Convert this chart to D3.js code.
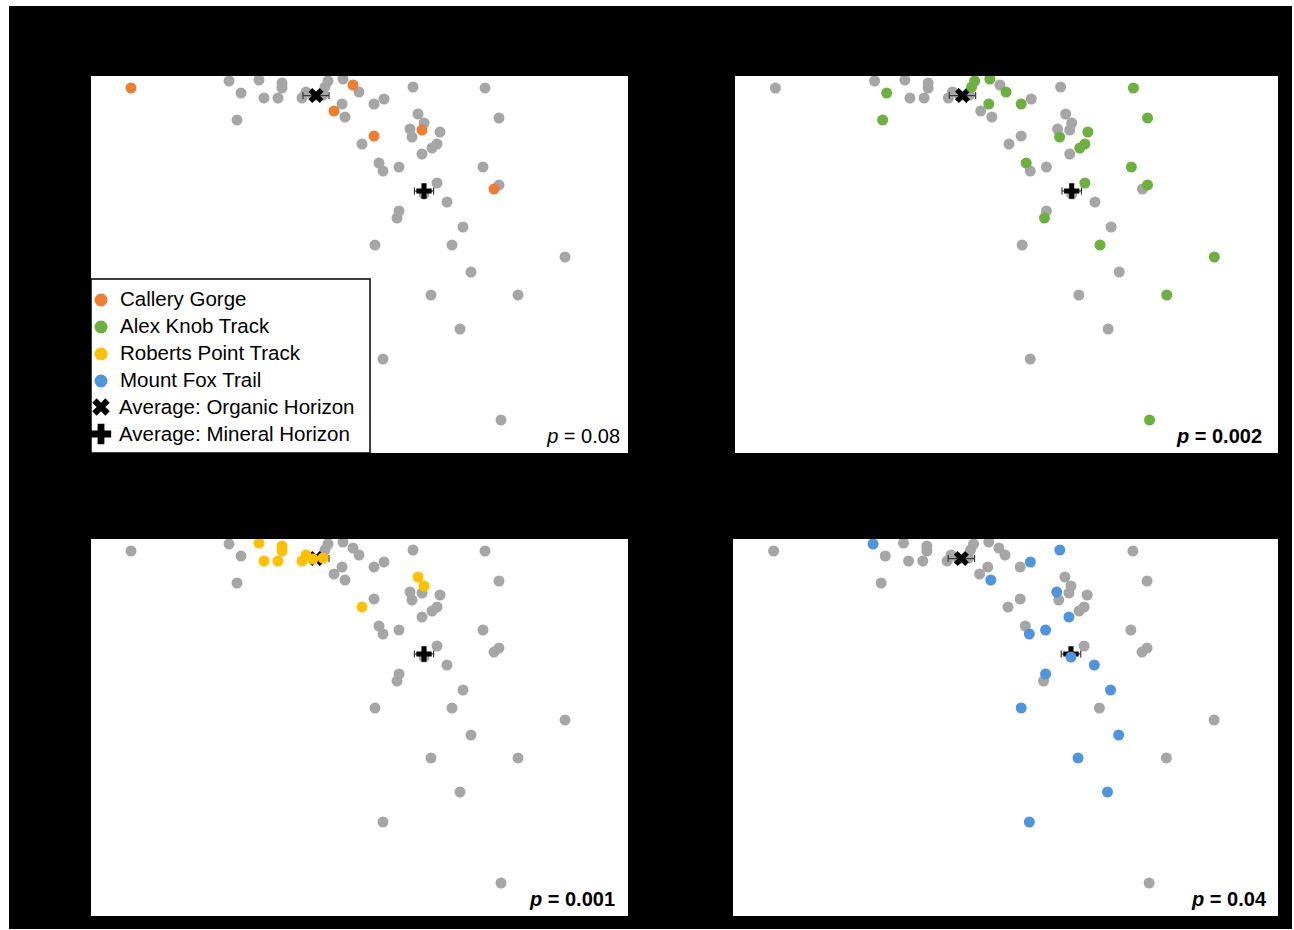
<!DOCTYPE html>
<html>
<head>
<meta charset="utf-8">
<script src="https://cdn.jsdelivr.net/npm/d3@7"></script>
<style>
  html, body { margin: 0; padding: 0; background: #ffffff; }
  svg { display: block; }
  text { font-family: "Liberation Sans", Arial, sans-serif; }
</style>
</head>
<body>
<svg id="chart" width="1294" height="930"></svg>
<script>
// NMDS ordination of soil communities, one panel per track
const sites = ["Callery Gorge", "Alex Knob Track", "Roberts Point Track", "Mount Fox Trail"];
const siteColors = ["#ed7d31", "#6cb040", "#ffc000", "#4f95dc"];

// sample scores [NMDS1, NMDS2]
const calleryGorge = [
  [-1.15, 0.89], [-0.04, 0.905], [-0.135, 0.775], [0.305, 0.68],
  [0.065, 0.65], [0.665, 0.385]
];
const alexKnobTrack = [
  [-0.60, 0.865], [-0.165, 0.925], [-0.18, 0.895], [-0.09, 0.935],
  [-0.01, 0.87], [-0.095, 0.81], [0.065, 0.81], [0.62, 0.89],
  [-0.62, 0.73], [0.255, 0.645], [0.395, 0.67], [0.69, 0.74],
  [0.38, 0.61], [0.355, 0.59], [0.09, 0.515], [0.61, 0.495],
  [0.38, 0.415], [0.69, 0.405], [0.18, 0.24], [0.455, 0.105],
  [1.02, 0.045], [0.785, -0.145], [0.70, -0.77]
];
const robertsPointTrack = [
  [-0.51, 0.93], [-0.395, 0.915], [-0.395, 0.89], [-0.485, 0.84],
  [-0.415, 0.84], [-0.295, 0.84], [-0.275, 0.87], [-0.24, 0.85],
  [-0.19, 0.855], [0.285, 0.76], [0.315, 0.715], [0.005, 0.61]
];
const mountFoxTrail = [
  [-0.66, 0.925], [-0.08, 0.745], [0.115, 0.835], [0.26, 0.895],
  [0.245, 0.685], [0.305, 0.56], [0.11, 0.475], [0.19, 0.495],
  [0.43, 0.32], [0.19, 0.275], [0.51, 0.195], [0.07, 0.105],
  [0.55, -0.03], [0.35, -0.145], [0.495, -0.315], [0.11, -0.465],
  [0.315, 0.36]
];
const siteScores = [calleryGorge, alexKnobTrack, robertsPointTrack, mountFoxTrail];

// horizon centroids: [NMDS1, NMDS2, standard error on NMDS1]
const organicAverage = [-0.225, 0.852, 0.065];
const mineralAverage = [0.315, 0.375, 0.048];

const pValues = [0.08, 0.002, 0.001, 0.04];
const pLabels = ["0.08", "0.002", "0.001", "0.04"];

const xDomain = [-1.35, 1.335];
const yDomain = [-0.935, 0.95];

// ---------------------------------------------------------------
const svg = d3.select("#chart");
const grey = "#a6a6a6";

svg.append("rect")
  .attr("x", 9).attr("y", 6)
  .attr("width", 1283).attr("height", 923)
  .attr("fill", "#000000");

const panels = [
  { x: 91,  y: 76,  w: 537, h: 377, pInset: 8 },
  { x: 735, y: 76,  w: 543, h: 377, pInset: 16 },
  { x: 91,  y: 539, w: 537, h: 377, pInset: 13 },
  { x: 733, y: 539, w: 545, h: 377, pInset: 12 }
];

const xSym = d3.symbol().type(d3.symbolCross);

function drawCentroid(g, x, y, c, kind, size) {
  const cx = x(c[0]), cy = y(c[1]);
  const x0 = x(c[0] - c[2]), x1 = x(c[0] + c[2]);
  const eb = g.append("g").attr("stroke", "#3a3a3a").attr("stroke-width", 1.2);
  eb.append("line").attr("x1", x0).attr("x2", x1).attr("y1", cy).attr("y2", cy);
  eb.append("line").attr("x1", x0).attr("x2", x0).attr("y1", cy - 3.5).attr("y2", cy + 3.5);
  eb.append("line").attr("x1", x1).attr("x2", x1).attr("y1", cy - 3.5).attr("y2", cy + 3.5);
  g.append("path")
    .attr("d", xSym.size(size)())
    .attr("transform", `translate(${cx},${cy}) rotate(${kind === "x" ? 45 : 0})`)
    .attr("fill", "#000");
}

panels.forEach((p, i) => {
  const g = svg.append("g");
  const clipId = "clip" + i;
  svg.append("clipPath").attr("id", clipId)
    .append("rect").attr("x", p.x).attr("y", p.y).attr("width", p.w).attr("height", p.h);

  g.append("rect").attr("x", p.x).attr("y", p.y).attr("width", p.w).attr("height", p.h)
    .attr("fill", "#fff");

  const x = d3.scaleLinear().domain(xDomain).range([p.x, p.x + p.w]);
  const y = d3.scaleLinear().domain(yDomain).range([p.y + p.h, p.y]);

  const plot = g.append("g").attr("clip-path", `url(#${clipId})`);

  // every other site in grey
  const others = siteScores.filter((_, k) => k !== i).flat();
  plot.append("g").selectAll("circle").data(others).join("circle")
    .attr("cx", d => x(d[0])).attr("cy", d => y(d[1])).attr("r", 5.5)
    .attr("fill", grey);

  drawCentroid(plot, x, y, organicAverage, "x", 140);
  drawCentroid(plot, x, y, mineralAverage, "plus", 130);

  // highlighted site
  plot.append("g").selectAll("circle").data(siteScores[i]).join("circle")
    .attr("cx", d => x(d[0])).attr("cy", d => y(d[1])).attr("r", 5.5)
    .attr("fill", siteColors[i]);

  // p-value
  const t = g.append("text")
    .attr("x", p.x + p.w - p.pInset)
    .attr("y", p.y + p.h - 10)
    .attr("text-anchor", "end")
    .attr("font-size", 20)
    .attr("font-weight", pValues[i] < 0.05 ? "bold" : "normal")
    .attr("fill", "#000");
  t.append("tspan").attr("font-style", "italic").text("p");
  t.append("tspan").text(" = " + pLabels[i]);
});

// legend in first panel
const lg = svg.append("g");
lg.append("rect").attr("x", 91).attr("y", 279).attr("width", 279).attr("height", 174)
  .attr("fill", "#fff").attr("stroke", "#000").attr("stroke-width", 1.5);

const legendItems = sites.map((s, k) => ({ label: s, kind: "dot", color: siteColors[k] }))
  .concat([
    { label: "Average: Organic Horizon", kind: "x" },
    { label: "Average: Mineral Horizon", kind: "plus" }
  ]);

legendItems.forEach((d, k) => {
  const cy = 299 + k * 27;
  if (d.kind === "dot") {
    lg.append("circle").attr("cx", 101).attr("cy", cy + 1).attr("r", 6.5).attr("fill", d.color);
  } else {
    lg.append("path")
      .attr("d", xSym.size(d.kind === "x" ? 190 : 230)())
      .attr("transform", `translate(101,${cy}) rotate(${d.kind === "x" ? 45 : 0})`)
      .attr("fill", "#000");
  }
  lg.append("text").attr("x", d.kind === "dot" ? 120 : 119).attr("y", cy + 7)
    .attr("font-size", 20.5).attr("fill", "#000").text(d.label);
});
</script>
</body>
</html>
